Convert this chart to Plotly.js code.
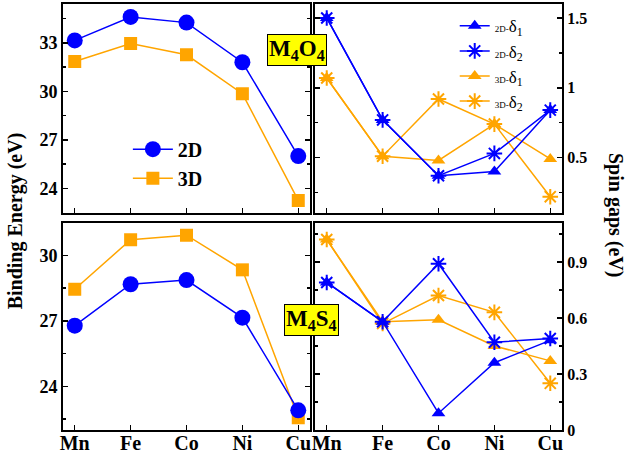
<!DOCTYPE html>
<html>
<head>
<meta charset="utf-8">
<script src="https://cdn.plot.ly/plotly-3.0.1.min.js"></script>
<style>html,body{margin:0;padding:0;background:#fff;}#chart{width:626px;height:455px;}</style>
</head>
<body>
<div id="chart"></div>
<script>
// Data
const metals = ["Mn", "Fe", "Co", "Ni", "Cu"];
// Binding energies (eV), M4O4
const beO_2D = [33.15, 34.6, 34.25, 31.8, 26.0];
const beO_3D = [31.85, 32.96, 32.26, 29.86, 23.26];
// Binding energies (eV), M4S4
const beS_2D = [26.78, 28.68, 28.87, 27.15, 22.9];
const beS_3D = [28.45, 30.72, 30.93, 29.34, 22.56];
// Spin gaps (eV), M4O4
const sgO_2D_d1 = [1.5, 0.77, 0.37, 0.40, 0.84];
const sgO_2D_d2 = [1.5, 0.77, 0.37, 0.53, 0.84];
const sgO_3D_d1 = [1.07, 0.51, 0.48, 0.74, 0.49];
const sgO_3D_d2 = [1.07, 0.51, 0.92, 0.74, 0.22];
// Spin gaps (eV), M4S4
const sgS_2D_d1 = [0.79, 0.58, 0.09, 0.36, 0.48];
const sgS_2D_d2 = [0.79, 0.58, 0.89, 0.47, 0.49];
const sgS_3D_d1 = [1.02, 0.58, 0.59, 0.45, 0.37];
const sgS_3D_d2 = [1.02, 0.57, 0.72, 0.63, 0.25];

const BLUE = "#0000ff", ORANGE = "#ffa500";
const FONT = "Liberation Serif, Times New Roman, serif";

function circ(color){return {symbol:"circle", size:16, color:color};}
function sq(color){return {symbol:"square", size:13, color:color};}
function tri(color){return {symbol:"triangle-up", size:12, color:color};}
function star(color){return {symbol:"asterisk-open", size:13, color:color, line:{color:color, width:2}};}

function tr(y, xa, ya, color, marker, name, legend, show, rank){
  return {x: metals, y: y, xaxis: xa, yaxis: ya, type:"scatter", mode:"lines+markers",
    line:{color:color, width:1.5}, marker: marker, name: name, legend: legend, showlegend: show,
    legendrank: rank};
}
const lbl = (p, d) => "<span style='font-size:9px'>" + p + "-</span>δ<sub>" + d + "</sub>";

const data = [
  tr(beO_2D, "x", "y", BLUE, circ(BLUE), "2D", "legend", true, 1),
  tr(beO_3D, "x", "y", ORANGE, sq(ORANGE), "3D", "legend", true, 2),
  tr(beS_3D, "x3", "y3", ORANGE, sq(ORANGE), "3D", "legend", false, 3),
  tr(beS_2D, "x3", "y3", BLUE, circ(BLUE), "2D", "legend", false, 4),
  tr(sgO_3D_d1, "x2", "y2", ORANGE, tri(ORANGE), lbl("3D", 1), "legend2", true, 3),
  tr(sgO_3D_d2, "x2", "y2", ORANGE, star(ORANGE), lbl("3D", 2), "legend2", true, 4),
  tr(sgO_2D_d1, "x2", "y2", BLUE, tri(BLUE), lbl("2D", 1), "legend2", true, 1),
  tr(sgO_2D_d2, "x2", "y2", BLUE, star(BLUE), lbl("2D", 2), "legend2", true, 2),
  tr(sgS_3D_d1, "x4", "y4", ORANGE, tri(ORANGE), lbl("3D", 1), "legend2", false, 5),
  tr(sgS_3D_d2, "x4", "y4", ORANGE, star(ORANGE), lbl("3D", 2), "legend2", false, 6),
  tr(sgS_2D_d1, "x4", "y4", BLUE, tri(BLUE), lbl("2D", 1), "legend2", false, 7),
  tr(sgS_2D_d2, "x4", "y4", BLUE, star(BLUE), lbl("2D", 2), "legend2", false, 8)
];

function xax(domain, anchor, labels){
  return {type:"category", categoryorder:"array", categoryarray: metals, domain: domain, anchor: anchor,
    range:[-0.21, 4.21], showline:true, mirror:true, linecolor:"#000", linewidth:2,
    ticks:"inside", ticklen:5, tickwidth:1.5, tickcolor:"#000", showgrid:false, zeroline:false,
    showticklabels: labels, ticklabelstandoff: -6,
    tickfont:{family:FONT, size:20, color:"#000", weight:"bold"}};
}
function yax(domain, anchor, range, dtick, mdtick, side, fs){
  return {domain: domain, anchor: anchor, range: range, dtick: dtick, tick0: 0, side: side,
    showline:true, mirror:"ticks", linecolor:"#000", linewidth:2,
    ticks:"inside", ticklen:5, tickwidth:1.5, tickcolor:"#000", showgrid:false, zeroline:false,
    minor:{dtick: mdtick, tick0: 0, ticks:"inside", ticklen:3, tickwidth:1.5, tickcolor:"#000", showgrid:false},
    tickfont:{family:FONT, size:fs, color:"#000", weight:"bold"}};
}

const topD = [0.510, 1.0], botD = [0.0, 0.4866];
const leftD = [0.0, 0.495], rightD = [0.505, 1.0];

const layout = {
  width: 626, height: 455,
  margin: {l:63, r:64, t:4, b:25},
  paper_bgcolor:"#fff", plot_bgcolor:"#fff",
  font:{family:FONT, color:"#000"},
  xaxis: xax(leftD, "y", false),
  xaxis2: xax(rightD, "y2", false),
  xaxis3: xax(leftD, "y3", true),
  xaxis4: xax(rightD, "y4", true),
  yaxis: yax(topD, "x", [22.5, 35.4], 3, 1.5, "left", 18),
  yaxis2: yax(topD, "x2", [0.105, 1.6], 0.5, 0.25, "right", 16),
  yaxis3: yax(botD, "x3", [22.0, 31.5], 3, 1.5, "left", 18),
  yaxis4: yax(botD, "x4", [0.0, 1.11], 0.3, 0.15, "right", 16),
  legend: {x:0.13, y:0.705, xanchor:"left", yanchor:"top", bgcolor:"rgba(0,0,0,0)",
    font:{family:FONT, size:20, color:"#000", weight:"bold"}, tracegroupgap:0, itemwidth:40},
  legend2: {x:0.785, y:0.99, xanchor:"left", yanchor:"top", bgcolor:"rgba(0,0,0,0)",
    font:{family:FONT, size:17, color:"#000"}, tracegroupgap:0, itemwidth:30},
  annotations: [
    {text:"M<sub>4</sub>O<sub>4</sub>", xref:"paper", yref:"paper", x:0.468, y:0.893, showarrow:false,
     xanchor:"center", yanchor:"middle",
     bgcolor:"#ffff00", bordercolor:"#000", borderwidth:1, borderpad:1,
     font:{family:FONT, size:23, color:"#000", weight:"bold"}},
    {text:"M<sub>4</sub>S<sub>4</sub>", xref:"paper", yref:"paper", x:0.498, y:0.258, showarrow:false,
     xanchor:"center", yanchor:"middle",
     bgcolor:"#ffff00", bordercolor:"#000", borderwidth:1, borderpad:1,
     font:{family:FONT, size:23, color:"#000", weight:"bold"}},
    {text:"Binding Energy (eV)", xref:"paper", yref:"paper", x:-0.096, y:0.49, textangle:-90, showarrow:false,
     xanchor:"center", yanchor:"middle",
     font:{family:FONT, size:20, color:"#000", weight:"bold"}},
    {text:"Spin gaps (eV)", xref:"paper", yref:"paper", x:1.106, y:0.505, textangle:90, showarrow:false,
     xanchor:"center", yanchor:"middle",
     font:{family:FONT, size:20, color:"#000", weight:"bold"}}
  ]
};

Plotly.newPlot("chart", data, layout, {displayModeBar:false, staticPlot:true});
</script>
</body>
</html>
